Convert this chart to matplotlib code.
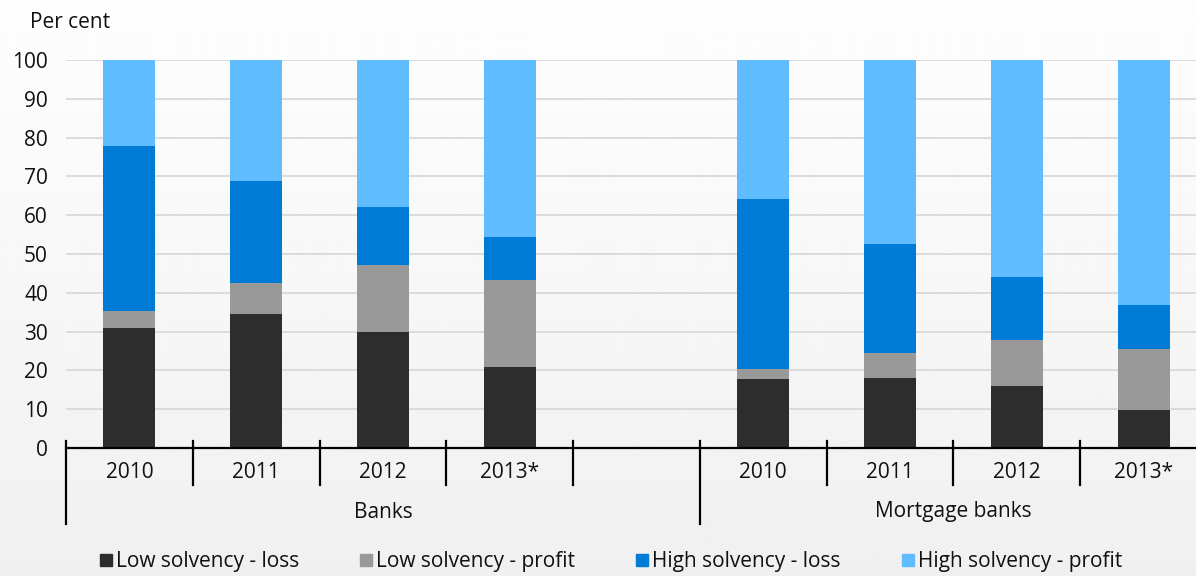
import numpy as np
import matplotlib.pyplot as plt
from matplotlib.patches import Patch
from matplotlib.transforms import blended_transform_factory

plt.rcParams['font.family'] = ['Open Sans', 'DejaVu Sans']

# categories, with an empty slot between the two groups
years = ['2010', '2011', '2012', '2013*', '', '2010', '2011', '2012', '2013*']
groups = ['Banks', 'Mortgage banks']
series = ['Low solvency - loss', 'Low solvency - profit',
          'High solvency - loss', 'High solvency - profit']
colors = ['#2d2d2d', '#999999', '#007bd6', '#5fbcff']

low_loss = [30.8, 34.6, 29.8, 20.9, np.nan, 17.7, 18.0, 15.9, 9.8]
low_profit = [4.5, 7.8, 17.3, 22.5, np.nan, 2.7, 6.4, 11.9, 15.8]
high_loss = [42.6, 26.4, 15.0, 11.0, np.nan, 43.7, 28.1, 16.2, 11.3]
high_profit = [22.1, 31.2, 37.9, 45.6, np.nan, 35.9, 47.5, 56.0, 63.1]

W, H = 1196, 576
FS = 15
fig = plt.figure(figsize=(W / 100, H / 100), dpi=100)

# soft vertical background gradient
bg = fig.add_axes([0, 0, 1, 1], zorder=-10)
grad = np.linspace(0.995, 0.94, 256).reshape(-1, 1)
bg.imshow(grad, aspect='auto', cmap='gray', vmin=0, vmax=1, extent=[0, 1, 0, 1])
bg.axis('off')

x0, x1, y0, y1 = 66, 1207, 448, 60
ax = fig.add_axes([x0 / W, (H - y0) / H, (x1 - x0) / W, (y0 - y1) / H])
ax.patch.set_alpha(0)

x = np.arange(len(years))
bottom = np.zeros(len(years))
for vals, c, name in zip([low_loss, low_profit, high_loss, high_profit], colors, series):
    v = np.array(vals)
    ax.bar(x, v, 0.41, bottom=bottom, color=c, label=name, zorder=3)
    bottom = bottom + np.nan_to_num(v)

ax.set_xlim(-0.5, len(years) - 0.5)
ax.set_ylim(0, 100)
ax.set_yticks(range(0, 101, 10))
ax.yaxis.grid(True, color='#d9d9d9', lw=1.3, zorder=0)
ax.tick_params(axis='y', length=0, pad=13, labelsize=FS, labelcolor='#111111')
ax.set_xticks([])
for s in ['top', 'right', 'left']:
    ax.spines[s].set_visible(False)
ax.spines['bottom'].set_linewidth(1.6)
ax.spines['bottom'].set_zorder(4)

ph = y0 - y1
tr = blended_transform_factory(ax.transData, ax.transAxes)
# year labels and short separators
for i, yr in enumerate(years):
    ax.text(i, -25 / ph, yr, transform=tr, ha='center', va='center', fontsize=FS, color='#111111')
for b in np.arange(len(years) + 1) - 0.5:
    long_line = b in (-0.5, 4.5, len(years) - 0.5)
    low = -76 / ph if long_line else -37 / ph
    ax.plot([b, b], [7 / ph, low], transform=tr, color='black', lw=1.6, clip_on=False, zorder=5)

# group labels
ax.text(2, -64 / ph, groups[0], transform=tr, ha='center', va='center', fontsize=FS, color='#111111')
ax.text(6.5, -64 / ph, groups[1], transform=tr, ha='center', va='center', fontsize=FS, color='#111111')

fig.text(30 / W, 1 - 23 / H, 'Per cent', ha='left', va='center', fontsize=FS, color='#111111')

handles = [Patch(color=c) for c in colors]
fig.legend(handles, series, loc='center', bbox_to_anchor=(611 / W, 1 - 562 / H), ncol=4,
           frameon=False, fontsize=FS, handlelength=0.55, handleheight=0.55,
           handletextpad=0.2, columnspacing=2.95, labelcolor='#111111',
           borderpad=0.1)

fig.savefig('out.png', dpi=100)
